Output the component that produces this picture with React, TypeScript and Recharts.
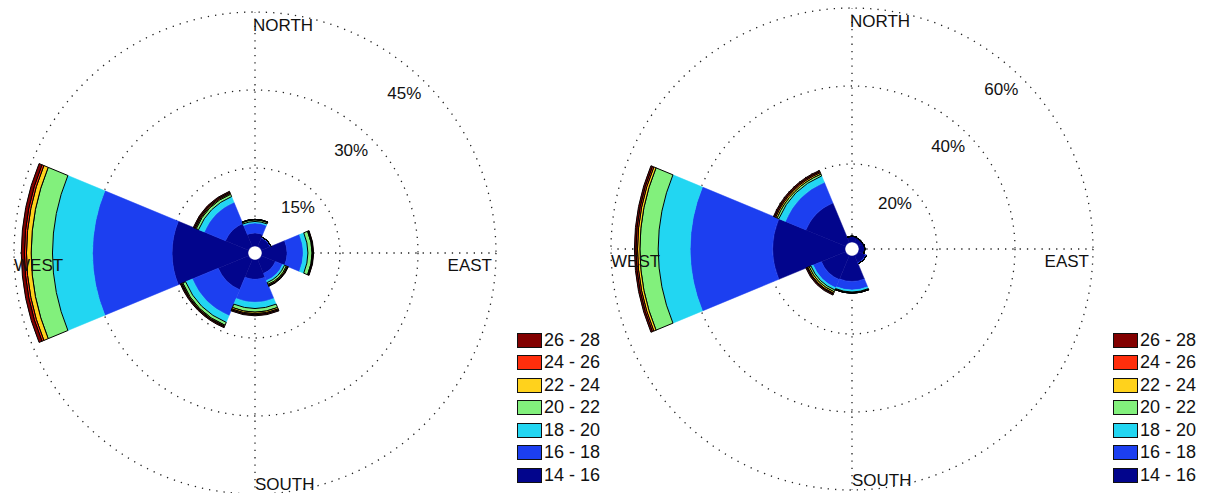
import {
  RadialBarChart,
  RadialBar,
  PolarGrid,
  PolarAngleAxis,
  PolarRadiusAxis,
} from "recharts";

// sectors go counter-clockwise from east, 45 degrees each
const directions = ["E", "NE", "N", "NW", "W", "SW", "S", "SE"];
const compassNames: Record<string, string> = { N: "NORTH", S: "SOUTH", E: "EAST", W: "WEST" };

const speedBins = ["14 - 16", "16 - 18", "18 - 20", "20 - 22", "22 - 24", "24 - 26", "26 - 28"];
const binKeys = ["s14", "s16", "s18", "s20", "s22", "s24", "s26"];
const binColors = ["#02058c", "#1c3ff0", "#22d6f2", "#82f07c", "#ffd21c", "#ff2e0c", "#820000"];

// left rose, % of time per direction (E, NE, N, NW, W, SW, S, SE)
const left14 = [4.8, 1.8, 2.5, 4.8, 14.6, 6.3, 3.7, 2.9];
const left16 = [3.1, 0.2, 1.9, 4.4, 15.3, 5.4, 4.4, 1.5];
const left18 = [0.9, 0, 0.3, 1.2, 7.7, 1.4, 1.2, 0.4];
const left20 = [0.8, 0, 0.3, 0.5, 4.1, 0.6, 0.7, 0.4];
const left22 = [0.1, 0, 0.1, 0.2, 0.9, 0.2, 0.3, 0.2];
const left24 = [0.1, 0, 0, 0.2, 0.4, 0.1, 0.2, 0.1];
const left26 = [0.1, 0, 0, 0.2, 0.6, 0.2, 0.2, 0.1];
const leftTicks = [15, 30, 45];

// right rose
const right14 = [1.5, 1.3, 1.5, 11.0, 18.5, 6.7, 6.5, 2.0];
const right16 = [0, 0, 0, 5.7, 21.2, 2.3, 2.2, 0.3];
const right18 = [0, 0, 0, 1.8, 8.2, 0.6, 0.5, 0];
const right20 = [0, 0, 0, 0.5, 4.7, 0.5, 0.2, 0];
const right22 = [0, 0, 0, 0.4, 0.6, 0.4, 0.1, 0];
const right24 = [0, 0, 0, 0.3, 0.4, 0.2, 0, 0];
const right26 = [0, 0, 0, 0.3, 0.4, 0.3, 0, 0];
const rightTicks = [20, 40, 60];

const R_IN = 7;
const R_OUT = 241;
const FONT = "'Liberation Sans', Arial, sans-serif";

function buildRows(cols: number[][]) {
  return directions.map((dir, i) => {
    const row: Record<string, string | number> = { dir };
    binKeys.forEach((k, j) => {
      row[k] = cols[j][i];
    });
    return row;
  });
}

const leftData = buildRows([left14, left16, left18, left20, left22, left24, left26]);
const rightData = buildRows([right14, right16, right18, right20, right22, right24, right26]);

function SpeedLegend({ left }: { left: number }) {
  const rows = speedBins.map((b, i) => ({ label: b, color: binColors[i] })).reverse();
  return (
    <div style={{ position: "absolute", left, top: 329, fontFamily: FONT }}>
      {rows.map((r) => (
        <div key={r.label} style={{ display: "flex", alignItems: "center", height: 22.5 }}>
          <div
            style={{
              width: 25,
              height: 15,
              boxSizing: "border-box",
              border: "1px solid #111",
              background: r.color,
            }}
          />
          <span style={{ fontSize: 18, marginLeft: 2, color: "#111", lineHeight: "15px" }}>{r.label}</span>
        </div>
      ))}
    </div>
  );
}

function WindRose({
  data,
  ticks,
  x,
  cx,
  cy,
}: {
  data: Record<string, string | number>[];
  ticks: number[];
  x: number;
  cx: number;
  cy: number;
}) {
  const max = ticks[ticks.length - 1];
  const ringRadius = ticks.map((t) => R_IN + ((R_OUT - R_IN) * t) / max);

  const compassTick = (props: any) => {
    const name = compassNames[props.payload?.value];
    if (!name) return <g />;
    let tx = cx;
    let ty = cy;
    let anchor: "start" | "end" = "start";
    if (name === "NORTH") {
      tx = cx - 2;
      ty = cy - R_OUT + 19;
    } else if (name === "SOUTH") {
      ty = cy + R_OUT - 4;
    } else if (name === "EAST") {
      tx = cx + R_OUT - 4;
      ty = cy + 18;
      anchor = "end";
    } else {
      tx = cx - R_OUT;
      ty = cy + 18;
    }
    return (
      <text x={tx} y={ty} textAnchor={anchor} fontSize={17} fontFamily={FONT} fill="#111">
        {name}
      </text>
    );
  };

  const pctTick = (props: any) => {
    const v = props.payload?.value;
    if (!v) return <g />;
    return (
      <text x={props.x - 15} y={props.y + 22} textAnchor="middle" fontSize={17} fontFamily={FONT} fill="#111">
        {`${v}%`}
      </text>
    );
  };

  return (
    <div style={{ position: "absolute", left: x, top: 0 }}>
      <RadialBarChart
        width={600}
        height={493}
        data={data}
        layout="centric"
        cx={cx}
        cy={cy}
        innerRadius={R_IN}
        outerRadius={R_OUT}
        startAngle={22.5}
        endAngle={382.5}
        barCategoryGap={0}
        margin={{ top: 0, right: 0, bottom: 0, left: 0 }}
      >
        {binKeys.map((k, j) => (
          <RadialBar
            key={k}
            dataKey={k}
            stackId="rose"
            fill={binColors[j]}
            stroke={j >= 3 ? "#000" : binColors[j]}
            strokeWidth={j >= 3 ? 1 : 0.5}
            isAnimationActive={false}
          />
        ))}
        <PolarGrid
          gridType="circle"
          polarAngles={[0, 90, 180, 270]}
          polarRadius={ringRadius}
          stroke="#222"
          strokeWidth={1.3}
          strokeDasharray="1.3 6"
        />
        <PolarAngleAxis type="category" dataKey="dir" axisLine={false} tickLine={false} tick={compassTick} />
        <PolarRadiusAxis
          type="number"
          domain={[0, max]}
          ticks={ticks}
          tickCount={4}
          angle={47}
          axisLine={false}
          tick={pctTick}
        />
      </RadialBarChart>
    </div>
  );
}

export default function App() {
  return (
    <div style={{ position: "absolute", left: 0, top: 0, width: 1205, height: 493, background: "#fff" }}>
      <WindRose data={leftData} ticks={leftTicks} x={0} cx={255} cy={253} />
      <SpeedLegend left={517} />
      <WindRose data={rightData} ticks={rightTicks} x={600} cx={252} cy={249} />
      <SpeedLegend left={1113} />
    </div>
  );
}
